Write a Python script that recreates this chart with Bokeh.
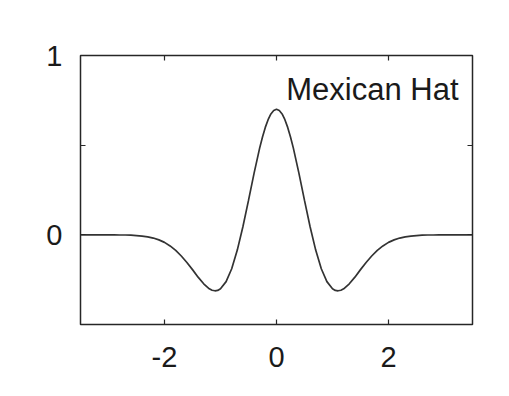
from bokeh.plotting import figure
from bokeh.models import LinearAxis, FixedTicker, Label, Range1d
from bokeh.embed import file_html
from bokeh.resources import INLINE

# Mexican Hat curve
x_vals = [-3.5, -3.4, -3.3, -3.2, -3.1, -3.0, -2.9, -2.8, -2.7, -2.6,
          -2.5, -2.4, -2.3, -2.2, -2.1, -2.0, -1.9, -1.8, -1.7, -1.6,
          -1.5, -1.4, -1.3, -1.2, -1.15, -1.1, -1.05, -1.0, -0.9, -0.8, -0.7, -0.6,
          -0.5, -0.4, -0.3, -0.25, -0.2, -0.15, -0.1, -0.05, 0.0,
          0.05, 0.1, 0.15, 0.2, 0.25, 0.3, 0.4,
          0.5, 0.6, 0.7, 0.8, 0.9, 1.0, 1.05, 1.1, 1.15, 1.2, 1.3, 1.4,
          1.5, 1.6, 1.7, 1.8, 1.9, 2.0, 2.1, 2.2, 2.3, 2.4,
          2.5, 2.6, 2.7, 2.8, 2.9, 3.0, 3.1, 3.2, 3.3, 3.4, 3.5]
y_vals = [0.000, 0.000, 0.000, 0.000, 0.000, 0.000, 0.000, -0.001, -0.001, -0.002,
          -0.004, -0.007, -0.011, -0.018, -0.028, -0.042, -0.062, -0.087, -0.118, -0.154,
          -0.194, -0.236, -0.273, -0.301, -0.309, -0.312, -0.310, -0.301, -0.261, -0.189, -0.085, 0.045,
          0.192, 0.344, 0.485, 0.546, 0.599, 0.642, 0.674, 0.693, 0.700,
          0.693, 0.674, 0.642, 0.599, 0.546, 0.485, 0.344,
          0.192, 0.045, -0.085, -0.189, -0.261, -0.301, -0.310, -0.312, -0.309, -0.301, -0.273, -0.236,
          -0.194, -0.154, -0.118, -0.087, -0.062, -0.042, -0.028, -0.018, -0.011, -0.007,
          -0.004, -0.002, -0.001, -0.001, 0.000, 0.000, 0.000, 0.000, 0.000, 0.000, 0.000]

x_ticks = [-2, 0, 2]
x_tick_labels = ["-2", "0", "2"]
y_ticks = [0, 1]
y_tick_labels = ["0", "1"]
y_minor = [-0.5, 0.5]
title_text = "Mexican Hat"

FONT = "Liberation Sans"
INK = "#262626"

p = figure(width=509, height=396, output_backend="svg", toolbar_location=None,
           x_range=Range1d(-3.5, 3.5), y_range=Range1d(-0.5, 1.0),
           x_axis_location=None, y_axis_location=None,
           min_border_left=80, min_border_right=37, min_border_top=55, min_border_bottom=72)
p.background_fill_color = "white"
p.border_fill_color = "white"
p.grid.visible = False
p.outline_line_color = INK
p.outline_line_width = 1.5


def style_axis(ax, ticks, labels=None):
    ax.axis_line_color = None
    ax.major_tick_in = 5
    ax.major_tick_out = 0
    ax.minor_tick_in = 5
    ax.minor_tick_out = 0
    ax.major_tick_line_color = INK
    ax.minor_tick_line_color = INK
    ax.major_tick_line_width = 1.2
    ax.minor_tick_line_width = 1.2
    ax.major_label_text_font = FONT
    ax.major_label_text_color = "#1a1a1a"
    ax.major_label_text_font_size = "29px"
    if labels is not None:
        ax.major_label_overrides = {t: s for t, s in zip(ticks, labels)}
    else:
        ax.major_label_overrides = {t: "" for t in ticks}
        ax.major_label_standoff = 0


bottom = LinearAxis(ticker=FixedTicker(ticks=x_ticks, minor_ticks=[]))
style_axis(bottom, x_ticks, x_tick_labels)
bottom.major_label_standoff = 22
p.add_layout(bottom, "below")

top = LinearAxis(ticker=FixedTicker(ticks=x_ticks, minor_ticks=[]))
style_axis(top, x_ticks)
p.add_layout(top, "above")

left = LinearAxis(ticker=FixedTicker(ticks=y_ticks, minor_ticks=y_minor))
style_axis(left, y_ticks, y_tick_labels)
left.major_label_standoff = 18
p.add_layout(left, "left")

right = LinearAxis(ticker=FixedTicker(ticks=y_ticks, minor_ticks=y_minor))
style_axis(right, y_ticks)
p.add_layout(right, "right")

p.line(x_vals, y_vals, line_color="#333333", line_width=1.7)

p.add_layout(Label(x=3.25, y=0.81, text=title_text, text_align="right",
                   text_baseline="alphabetic", text_font=FONT,
                   text_font_size="31px", text_color="#1a1a1a"))

open("out.html", "w").write(file_html(p, INLINE))
